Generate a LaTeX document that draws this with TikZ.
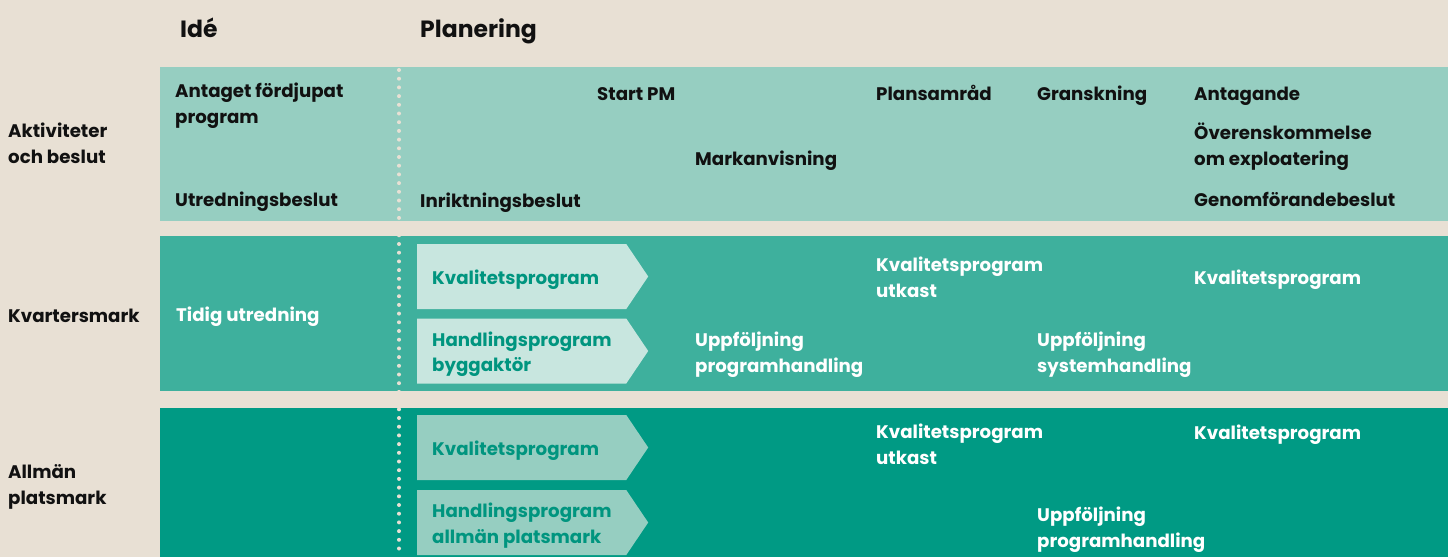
\documentclass[tikz,border=0pt]{standalone}
\usepackage{fontspec}
\setmainfont{Poppins}
\usetikzlibrary{positioning,shapes.symbols}
\definecolor{sand}{HTML}{E8E0D4}
\definecolor{tealA}{HTML}{96CEC1}
\definecolor{tealB}{HTML}{3EB09D}
\definecolor{tealC}{HTML}{009A84}
\definecolor{pale}{HTML}{C8E6DF}
\definecolor{inktxt}{HTML}{00957F}
\definecolor{ink}{HTML}{111111}

\begin{document}
\begin{tikzpicture}[x=1pt,y=-1pt,inner sep=0pt,
  lbl/.style={font=\bfseries\fontsize{18.2}{25.5}\selectfont,align=left,anchor=base west,text=ink},
  wlbl/.style={lbl,text=white},
  head/.style={font=\bfseries\fontsize{23.5}{27}\selectfont,anchor=base west,text=ink},
  progarrow/.style={signal,signal to=east,signal pointer angle=112,minimum width=231pt,minimum height=65pt,anchor=west},
  atxt/.style={font=\bfseries\fontsize{18.2}{25.5}\selectfont,align=left,text=inktxt,yshift=-3pt}]
\fill[sand] (0,0) rectangle (1448,557);
\useasboundingbox (0,0) rectangle (1448,557);
\fill[tealA] (160,67) rectangle (1448,221);
\fill[tealB] (160,236) rectangle (1448,391);
\fill[tealC] (160,408) rectangle (1448,557);
\draw[sand,line width=4pt,line cap=round,dash pattern=on 0pt off 8.7pt] (399,70) -- (399,557);
\node (idea) at (180,37) [head] {Idé};
\node (plan) at (420,37) [head] {Planering};
\node (act) at (8,163) [lbl] {Aktiviteter\\och beslut};
\node (kvm) at (8,322) [lbl] {Kvartersmark};
\node (apm) at (8,504) [lbl] {Allmän\\platsmark};
\node (fdp) at (175,123) [lbl] {Antaget fördjupat\\program};
\node (utb) at (175,206) [lbl] {Utredningsbeslut};
\node (spm) at (597,100) [lbl] {Start PM};
\node (mav) at (695,165) [lbl] {Markanvisning};
\node (inb) at (420,207) [lbl] {Inriktningsbeslut};
\node (psd) at (876,100) [lbl] {Plansamråd};
\node (grn) at (1037,100) [lbl] {Granskning};
\node (ant) at (1194,100) [lbl] {Antagande};
\node (oek) at (1194,165) [lbl] {Överenskommelse\\om exploatering};
\node (gfb) at (1194,206) [lbl] {Genomförandebeslut};
\node (tut) at (176,321) [wlbl] {Tidig utredning};
\node[progarrow,fill=pale] (kq1) at (417,276.5) {};
\node[progarrow,fill=pale] (hp1) at (417,351) {};
\node at (kq1.west) [right=15pt,atxt] {Kvalitetsprogram};
\node at (hp1.west) [right=15pt,atxt] {Handlingsprogram\\byggaktör};
\node (kqu1) at (876,297) [wlbl] {Kvalitetsprogram\\utkast};
\node (kqf1) at (1194,284) [wlbl] {Kvalitetsprogram};
\node (upp1) at (695,372) [wlbl] {Uppföljning\\programhandling};
\node (ups1) at (1037,372) [wlbl] {Uppföljning\\systemhandling};
\node[progarrow,fill=tealA] (kq2) at (417,447.5) {};
\node[progarrow,fill=tealA] (hp2) at (417,522.5) {};
\node at (kq2.west) [right=15pt,atxt] {Kvalitetsprogram};
\node at (hp2.west) [right=15pt,atxt] {Handlingsprogram\\allmän platsmark};
\node (kqu2) at (876,464) [wlbl] {Kvalitetsprogram\\utkast};
\node (kqf2) at (1194,439) [wlbl] {Kvalitetsprogram};
\node (upp2) at (1037,547) [wlbl] {Uppföljning\\programhandling};
\end{tikzpicture}
\end{document}
